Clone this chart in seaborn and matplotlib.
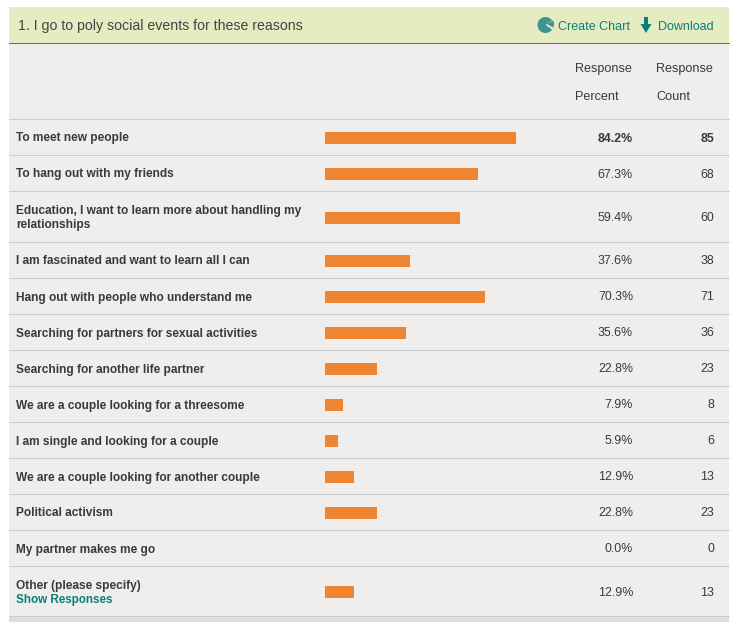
import numpy as np
import pandas as pd
import seaborn as sns
import matplotlib.pyplot as plt
from matplotlib.patches import Rectangle, Wedge, Polygon

# Survey table data
labels = ['To meet new people', 'To hang out with my friends',
          'Education, I want to learn more about handling my\nrelationships',
          'I am fascinated and want to learn all I can',
          'Hang out with people who understand me',
          'Searching for partners for sexual activities',
          'Searching for another life partner',
          'We are a couple looking for a threesome',
          'I am single and looking for a couple',
          'We are a couple looking for another couple',
          'Political activism', 'My partner makes me go',
          'Other (please specify)']
percents = [84.2, 67.3, 59.4, 37.6, 70.3, 35.6, 22.8, 7.9, 5.9, 12.9, 22.8, 0.0, 12.9]
counts = [85, 68, 60, 38, 71, 36, 23, 8, 6, 13, 23, 0, 13]
title = '1. I go to poly social events for these reasons'

W, H = 740, 622
LEFT, RIGHT = 9, 729
row_edges = np.array([119, 155, 191, 242, 278, 314, 350, 386, 422, 458, 494, 530, 566, 616])
row_centers = (row_edges[:-1] + row_edges[1:]) / 2
TY = 1.5  # text sits a little low in its row

TEXT = '#3a3a3a'
FONT = ['Liberation Sans', 'DejaVu Sans']
TEAL = '#0b7f78'

sns.set_theme(style='white')
plt.rcParams['font.family'] = FONT

fig = plt.figure(figsize=(W / 100, H / 100), dpi=100, facecolor='white')

# background axes in pixel coordinates
bg = fig.add_axes([0, 0, 1, 1])
bg.set_xlim(0, W)
bg.set_ylim(H, 0)
bg.axis('off')

bg.add_patch(Rectangle((LEFT, 7), RIGHT - LEFT, 36, fc='#e6ecc1', ec='none'))
bg.add_patch(Rectangle((LEFT, 43), RIGHT - LEFT, 573, fc='#efeeed', ec='none'))
bg.add_patch(Rectangle((LEFT, 616), RIGHT - LEFT, 6, fc='#dededc', ec='none'))
bg.plot([LEFT, RIGHT], [43, 43], color='#66695f', lw=0.72)
for e in row_edges:
    bg.plot([LEFT, RIGHT], [e - 0.5, e - 0.5], color='#cccccc', lw=0.72)

bg.text(18, 25.5 + TY - 1, title, fontsize=10.2, color='#444444', va='center')

# pie icon and download arrow
bg.add_patch(Wedge((545.5, 25), 8, 35, 325, fc='#3f9490', ec='none'))
bg.add_patch(Wedge((547, 24), 7, -30, 30, fc='#3f9490', ec='none'))
bg.text(558, 26 + TY - 1, 'Create Chart', fontsize=9, color=TEAL, va='center')
bg.add_patch(Polygon([(644, 17), (648, 17), (648, 24), (651.5, 24), (646, 33), (640.5, 24), (644, 24)],
                     fc='#0b7f78', ec='none'))
bg.text(658, 26 + TY - 1, 'Download', fontsize=9, color=TEAL, va='center')

# column headers
for x, second in [(575, 'Percent'), (656, 'Count')]:
    bg.text(x, 68 + TY - 0.5, 'Response', fontsize=9.1, color=TEXT, va='center')
    bg.text(x, 96 + TY - 0.5, second, fontsize=9.1, color=TEXT, va='center')

# row text
for i, (lab, p, c, y) in enumerate(zip(labels, percents, counts, row_centers)):
    w = 'bold' if i == 0 else 'normal'
    if i == len(labels) - 1:
        bg.text(16, 584.5 + TY, lab, fontsize=8.6, fontweight='bold', color=TEXT, va='center')
        bg.text(16, 599.5 + TY - 0.5, 'Show Responses', fontsize=8.4, fontweight='bold', color=TEAL, va='center')
    else:
        bg.text(16, y + TY, lab, fontsize=8.6, fontweight='bold', color=TEXT, va='center', linespacing=1.25)
    bg.text(633, y + TY, f'{p:.1f}%', fontsize=8.9, fontweight=w, color=TEXT, va='center', ha='right')
    bg.text(714, y + TY, str(c), fontsize=8.9, fontweight=w, color=TEXT, va='center', ha='right')

# bars, on an axes running 0-100 percent
ax = fig.add_axes([325 / W, 0, 227 / W, 1])
ax.patch.set_alpha(0)
df = pd.DataFrame({'row': row_centers + 1, 'percent': percents})
sns.barplot(data=df, x='percent', y='row', orient='h', native_scale=True,
            width=12 / 36, color='#ef8531', saturation=1, linewidth=0, ax=ax)
ax.set_xlim(0, 100)
ax.set_ylim(H, 0)
ax.axis('off')

fig.savefig('out.png', dpi=100)
